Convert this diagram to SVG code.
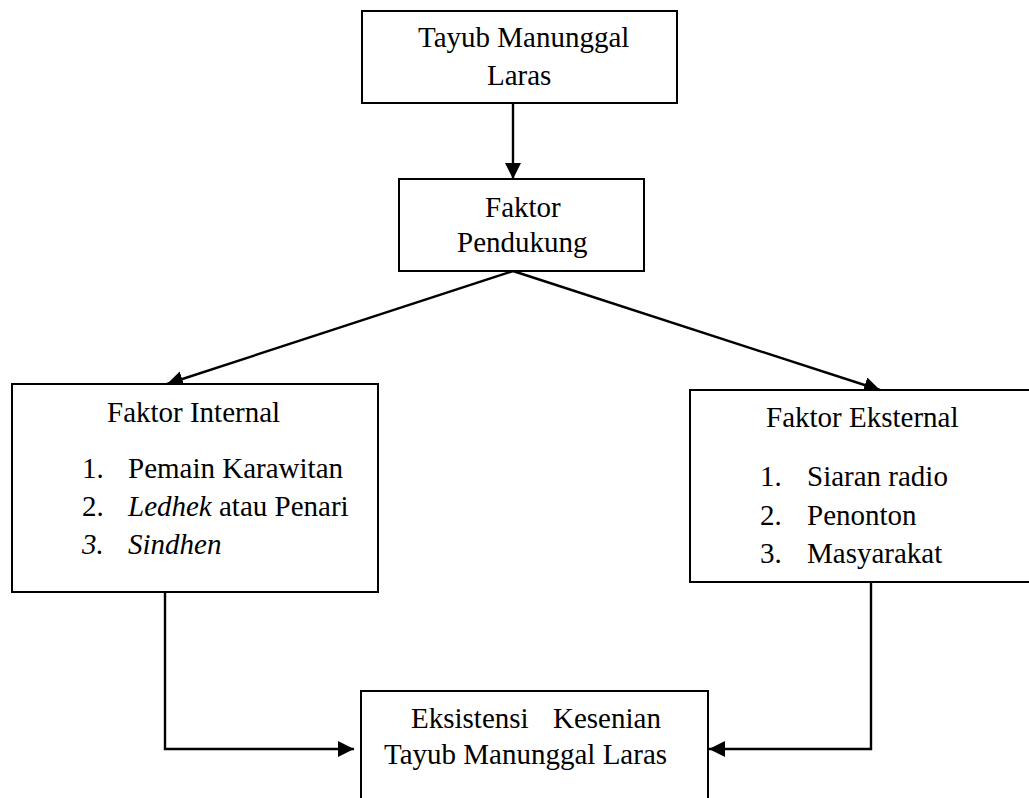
<svg xmlns="http://www.w3.org/2000/svg" width="1029" height="798" viewBox="0 0 1029 798">
<style>
.box{fill:#fff;stroke:#000;stroke-width:2}
text{font-family:'Liberation Serif','Times New Roman','DejaVu Serif',serif;font-size:29px;fill:#000}
.i{font-style:italic}
.c{fill:none;stroke:#000;stroke-width:2.4}
</style>
<defs>
<marker id="ah" markerUnits="userSpaceOnUse" markerWidth="17" markerHeight="17" refX="16" refY="8" orient="auto">
<path d="M0,0 L16,8 L0,16 z" fill="#000"/>
</marker>
</defs>
<rect width="1029" height="798" fill="#fff"/>
<g id="connectors">
<line class="c" x1="513" y1="103" x2="513" y2="179" marker-end="url(#ah)"/>
<line class="c" x1="513" y1="271" x2="167" y2="384" marker-end="url(#ah)"/>
<line class="c" x1="513" y1="271" x2="880" y2="390" marker-end="url(#ah)"/>
<polyline class="c" points="165,592 165,749 354,749" marker-end="url(#ah)"/>
<polyline class="c" points="871,582 871,749 709,749" marker-end="url(#ah)"/>
</g>
<g id="node-top">
<rect class="box" x="362" y="11" width="315" height="92"/>
<text x="418" y="47">Tayub Manunggal</text>
<text x="487" y="85">Laras</text>
</g>
<g id="node-pendukung">
<rect class="box" x="399" y="179" width="245" height="92"/>
<text x="485" y="217">Faktor</text>
<text x="457" y="252">Pendukung</text>
</g>
<g id="node-internal">
<rect class="box" x="12" y="384" width="366" height="208"/>
<text x="107" y="422">Faktor Internal</text>
<text x="82" y="478">1.</text>
<text x="128" y="478">Pemain Karawitan</text>
<text x="82" y="516">2.</text>
<text x="128" y="516"><tspan class="i">Ledhek</tspan> atau Penari</text>
<text class="i" x="82" y="554">3.</text>
<text class="i" x="128" y="554">Sindhen</text>
</g>
<g id="node-eksternal">
<rect class="box" x="690" y="390" width="345" height="192"/>
<text x="766" y="427">Faktor Eksternal</text>
<text x="760" y="486">1.</text>
<text x="807" y="486">Siaran radio</text>
<text x="760" y="525">2.</text>
<text x="807" y="525">Penonton</text>
<text x="760" y="563">3.</text>
<text x="807" y="563">Masyarakat</text>
</g>
<g id="node-eksistensi">
<rect class="box" x="361" y="691" width="347" height="120"/>
<text x="411" y="728">Eksistensi</text>
<text x="553" y="728">Kesenian</text>
<text x="384" y="764">Tayub Manunggal Laras</text>
</g>
</svg>
